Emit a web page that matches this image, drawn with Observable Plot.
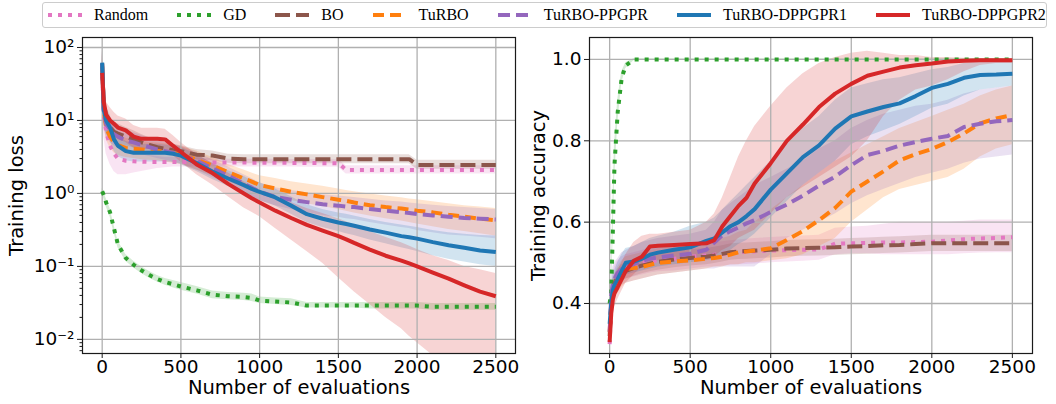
<!DOCTYPE html>
<html>
<head>
<meta charset="utf-8">
<script src="https://cdn.jsdelivr.net/npm/d3@7"></script>
<script src="https://cdn.jsdelivr.net/npm/@observablehq/plot@0.6"></script>
<style>
  body { margin: 0; background: #fff; }
  #wrap { width: 1056px; height: 404px; position: relative; overflow: hidden; background: #fff; }
  #legend { position: absolute; left: 42px; top: 2px; width: 1005px; height: 26px; box-sizing: border-box;
            border: 1px solid #cccccc; border-radius: 3px; background: #fff;
            font-family: "Liberation Serif", "Times New Roman", serif; font-size: 16px; color: #000;
            display: flex; align-items: center; padding-left: 5px; gap: 29px; }
  .item { display: flex; align-items: center; gap: 12px; white-space: nowrap; }
  .item svg { display: block; }
  #left { position: absolute; left: 0; top: 30px; }
  #right { position: absolute; left: 528px; top: 30px; }
</style>
</head>
<body>
<div id="wrap">
  <div id="legend"></div>
  <div id="left"></div>
  <div id="right"></div>
</div>
<script>
// ---------------- series names ----------------
const methods = ["Random", "GD", "BO", "TuRBO", "TuRBO-PPGPR", "TuRBO-DPPGPR1", "TuRBO-DPPGPR2"];

// ---------------- tick values ----------------
const xTicks = [0, 500, 1000, 1500, 2000, 2500];
const lossTicks = [0.01, 0.1, 1, 10, 100];
const lossMinorTicks = [0.007, 0.008, 0.009, 0.02, 0.03, 0.04, 0.05, 0.06, 0.07, 0.08, 0.09,
  0.2, 0.3, 0.4, 0.5, 0.6, 0.7, 0.8, 0.9, 2, 3, 4, 5, 6, 7, 8, 9, 20, 30, 40, 50, 60, 70, 80, 90];
const accTicks = [0.4, 0.6, 0.8, 1.0];

// ---------------- training loss (left) ----------------
const lossX = [0, 10, 25, 50, 75, 100, 150, 200, 250, 300, 350, 400, 450, 500, 600, 700, 800, 900, 950, 1000,
  1100, 1200, 1300, 1400, 1500, 1550, 1600, 1700, 1800, 1900, 1950, 2000, 2100, 2200, 2300, 2400, 2500];

const lossRandom   = [40, 12, 7, 4.5, 3.5, 3.0, 2.8, 2.75, 2.72, 2.7, 2.7, 2.7, 2.7, 2.7, 2.68, 2.66, 2.65, 2.65, 2.64, 2.64, 2.63, 2.62, 2.62, 2.6, 2.6, 2.1, 2.1, 2.1, 2.1, 2.1, 2.1, 2.1, 2.1, 2.1, 2.1, 2.1, 2.1];
const lossRandomLo = [20, 6, 3.5, 2.5, 2.0, 1.8, 1.8, 1.9, 2.0, 2.1, 2.2, 2.25, 2.3, 2.3, 2.3, 2.3, 2.3, 2.3, 2.3, 2.3, 2.3, 2.3, 2.28, 2.28, 2.28, 1.85, 1.85, 1.85, 1.85, 1.85, 1.85, 1.85, 1.85, 1.85, 1.85, 1.85, 1.85];
const lossRandomHi = [90, 30, 14, 8, 5.5, 4.5, 4.0, 3.6, 3.4, 3.3, 3.2, 3.1, 3.1, 3.05, 3.0, 3.0, 2.95, 2.95, 2.95, 2.95, 2.95, 2.92, 2.92, 2.9, 2.9, 2.4, 2.4, 2.4, 2.4, 2.4, 2.4, 2.4, 2.4, 2.4, 2.4, 2.4, 2.4];

const lossGD   = [1.07, 0.95, 0.75, 0.55, 0.33, 0.2, 0.13, 0.105, 0.088, 0.076, 0.067, 0.061, 0.057, 0.053, 0.047, 0.041, 0.039, 0.038, 0.037, 0.034, 0.033, 0.032, 0.029, 0.029, 0.029, 0.029, 0.029, 0.029, 0.029, 0.029, 0.029, 0.029, 0.028, 0.028, 0.028, 0.028, 0.028];
const lossGDLo = [0.97, 0.85, 0.66, 0.48, 0.29, 0.18, 0.118, 0.095, 0.08, 0.069, 0.061, 0.055, 0.051, 0.047, 0.042, 0.036, 0.035, 0.034, 0.033, 0.031, 0.03, 0.029, 0.027, 0.027, 0.027, 0.027, 0.027, 0.026, 0.026, 0.026, 0.026, 0.026, 0.025, 0.025, 0.025, 0.025, 0.025];
const lossGDHi = [1.18, 1.06, 0.85, 0.62, 0.37, 0.225, 0.146, 0.118, 0.099, 0.085, 0.075, 0.068, 0.064, 0.06, 0.053, 0.046, 0.044, 0.043, 0.042, 0.038, 0.037, 0.036, 0.032, 0.032, 0.032, 0.032, 0.032, 0.032, 0.032, 0.032, 0.032, 0.032, 0.031, 0.031, 0.031, 0.031, 0.031];

const lossBO   = [55, 18, 11, 8, 7, 6.6, 6, 5.5, 5, 4.6, 4.3, 4.1, 3.9, 3.8, 3.4, 3.3, 3.0, 2.95, 2.95, 2.95, 2.95, 2.95, 2.95, 2.95, 2.95, 2.95, 2.95, 2.95, 2.95, 2.95, 2.95, 2.45, 2.45, 2.45, 2.45, 2.45, 2.45];
const lossBOLo = [30, 10, 7, 5.5, 5, 4.8, 4.5, 4.2, 3.9, 3.7, 3.5, 3.4, 3.3, 3.2, 2.9, 2.8, 2.6, 2.55, 2.55, 2.55, 2.55, 2.55, 2.55, 2.55, 2.55, 2.55, 2.55, 2.55, 2.55, 2.55, 2.55, 2.15, 2.15, 2.15, 2.15, 2.15, 2.15];
const lossBOHi = [100, 30, 16, 11, 9.5, 9, 8, 7.2, 6.4, 5.8, 5.3, 5, 4.7, 4.5, 4.0, 3.8, 3.45, 3.4, 3.4, 3.4, 3.4, 3.4, 3.4, 3.4, 3.4, 3.4, 3.4, 3.4, 3.4, 3.4, 3.4, 2.85, 2.85, 2.85, 2.85, 2.85, 2.85];

const lossTuRBO   = [60, 14, 8, 6, 5, 4.6, 4.2, 4.1, 4.0, 3.9, 3.8, 3.7, 3.6, 3.4, 2.9, 2.4, 1.95, 1.6, 1.45, 1.3, 1.17, 1.05, 0.97, 0.89, 0.82, 0.79, 0.75, 0.69, 0.65, 0.62, 0.6, 0.58, 0.55, 0.51, 0.48, 0.45, 0.43];
const lossTuRBOLo = [35, 9, 5.5, 4.2, 3.6, 3.3, 3.1, 3.0, 2.9, 2.85, 2.8, 2.7, 2.6, 2.5, 2.1, 1.75, 1.45, 1.2, 1.1, 1.0, 0.9, 0.8, 0.72, 0.66, 0.6, 0.57, 0.54, 0.49, 0.45, 0.42, 0.4, 0.38, 0.35, 0.32, 0.3, 0.28, 0.26];
const lossTuRBOHi = [90, 22, 12, 8.5, 7, 6.3, 5.7, 5.4, 5.2, 5.0, 4.9, 4.8, 4.7, 4.4, 3.8, 3.1, 2.5, 2.1, 1.9, 1.75, 1.6, 1.45, 1.35, 1.25, 1.15, 1.1, 1.05, 0.98, 0.92, 0.87, 0.84, 0.82, 0.77, 0.72, 0.68, 0.65, 0.62];

const lossPPGPR   = [60, 13, 9, 7.5, 6.5, 6, 5.3, 5.0, 4.6, 4.3, 4.0, 3.8, 3.6, 3.4, 2.8, 2.2, 1.75, 1.35, 1.2, 1.05, 0.9, 0.82, 0.76, 0.71, 0.68, 0.66, 0.65, 0.61, 0.58, 0.55, 0.54, 0.52, 0.5, 0.48, 0.46, 0.45, 0.44];
const lossPPGPRLo = [35, 8, 6, 5, 4.5, 4.2, 3.8, 3.6, 3.4, 3.2, 3.0, 2.85, 2.7, 2.55, 2.1, 1.65, 1.3, 1.0, 0.9, 0.8, 0.68, 0.6, 0.55, 0.5, 0.47, 0.45, 0.44, 0.4, 0.37, 0.34, 0.33, 0.31, 0.29, 0.27, 0.26, 0.25, 0.24];
const lossPPGPRHi = [90, 20, 13, 11, 9.5, 8.5, 7.3, 6.8, 6.2, 5.7, 5.3, 5.0, 4.7, 4.4, 3.7, 2.9, 2.3, 1.8, 1.6, 1.4, 1.2, 1.1, 1.02, 0.96, 0.92, 0.9, 0.88, 0.83, 0.79, 0.76, 0.74, 0.72, 0.69, 0.66, 0.64, 0.62, 0.6];

const lossD1   = [62, 14, 10, 8, 5.5, 4.5, 3.8, 3.6, 3.6, 3.6, 3.6, 3.6, 3.5, 3.3, 2.6, 2.0, 1.6, 1.3, 1.15, 1.05, 0.88, 0.68, 0.52, 0.45, 0.4, 0.38, 0.36, 0.32, 0.29, 0.26, 0.25, 0.24, 0.215, 0.195, 0.18, 0.165, 0.157];
const lossD1Lo = [40, 9, 6.5, 5.3, 3.8, 3.2, 2.8, 2.7, 2.7, 2.7, 2.7, 2.7, 2.65, 2.5, 2.0, 1.55, 1.25, 1.0, 0.88, 0.8, 0.67, 0.52, 0.4, 0.34, 0.3, 0.28, 0.265, 0.23, 0.205, 0.18, 0.17, 0.16, 0.14, 0.125, 0.115, 0.105, 0.1];
const lossD1Hi = [95, 22, 15, 12, 8, 6.3, 5.2, 4.8, 4.7, 4.7, 4.7, 4.6, 4.5, 4.3, 3.4, 2.6, 2.05, 1.7, 1.5, 1.4, 1.15, 0.9, 0.7, 0.6, 0.54, 0.52, 0.49, 0.44, 0.4, 0.37, 0.355, 0.34, 0.31, 0.29, 0.275, 0.265, 0.26];

const lossD2   = [45, 18, 12, 10, 9, 8, 7.3, 6.0, 5.6, 5.6, 5.6, 5.5, 4.5, 3.7, 2.5, 1.9, 1.35, 1.0, 0.86, 0.75, 0.58, 0.46, 0.37, 0.31, 0.26, 0.235, 0.21, 0.17, 0.14, 0.12, 0.11, 0.1, 0.082, 0.068, 0.055, 0.045, 0.039];
const lossD2Lo = [25, 10, 7.5, 6.5, 6, 5.5, 5, 4.2, 4, 4, 4, 3.9, 3.3, 2.7, 1.8, 1.3, 0.9, 0.63, 0.55, 0.48, 0.33, 0.23, 0.16, 0.11, 0.07, 0.056, 0.045, 0.03, 0.02, 0.014, 0.011, 0.009, 0.006, 0.004, 0.003, 0.002, 0.002];
const lossD2Hi = [80, 30, 18, 15, 13, 11.5, 10.5, 8.5, 7.8, 7.8, 7.8, 7.6, 6.2, 5.0, 3.4, 2.6, 1.9, 1.45, 1.25, 1.1, 0.9, 0.75, 0.62, 0.53, 0.45, 0.41, 0.37, 0.3, 0.25, 0.21, 0.19, 0.17, 0.14, 0.12, 0.1, 0.09, 0.08];

// ---------------- training accuracy (right) ----------------
const accX = [0, 10, 20, 30, 50, 75, 100, 150, 200, 250, 300, 400, 500, 600, 650, 700, 750, 800, 850, 900, 1000,
  1100, 1200, 1300, 1400, 1500, 1600, 1700, 1800, 1900, 2000, 2100, 2200, 2300, 2400, 2500];

const accRandom   = [0.30, 0.40, 0.44, 0.46, 0.475, 0.485, 0.49, 0.495, 0.50, 0.503, 0.506, 0.51, 0.515, 0.518, 0.52, 0.522, 0.524, 0.526, 0.527, 0.528, 0.53, 0.531, 0.532, 0.533, 0.547, 0.548, 0.549, 0.55, 0.55, 0.551, 0.552, 0.555, 0.558, 0.56, 0.561, 0.563];
const accRandomLo = [0.28, 0.37, 0.41, 0.43, 0.445, 0.455, 0.46, 0.465, 0.47, 0.475, 0.478, 0.48, 0.485, 0.49, 0.49, 0.492, 0.494, 0.495, 0.496, 0.497, 0.5, 0.502, 0.504, 0.506, 0.52, 0.522, 0.522, 0.52, 0.52, 0.52, 0.52, 0.52, 0.522, 0.524, 0.525, 0.525];
const accRandomHi = [0.32, 0.43, 0.47, 0.49, 0.505, 0.515, 0.52, 0.525, 0.53, 0.535, 0.538, 0.54, 0.545, 0.548, 0.55, 0.552, 0.554, 0.556, 0.558, 0.56, 0.562, 0.564, 0.566, 0.568, 0.585, 0.588, 0.59, 0.595, 0.6, 0.6, 0.6, 0.6, 0.602, 0.605, 0.605, 0.605];

const accGD   = [0.40, 0.43, 0.58, 0.74, 0.87, 0.955, 0.985, 1.0, 1.0, 1.0, 1.0, 1.0, 1.0, 1.0, 1.0, 1.0, 1.0, 1.0, 1.0, 1.0, 1.0, 1.0, 1.0, 1.0, 1.0, 1.0, 1.0, 1.0, 1.0, 1.0, 1.0, 1.0, 1.0, 1.0, 1.0, 1.0];
const accGDLo = [0.38, 0.41, 0.54, 0.70, 0.84, 0.94, 0.978, 0.997, 0.998, 0.998, 0.998, 0.998, 0.998, 0.998, 0.998, 0.998, 0.998, 0.998, 0.998, 0.998, 0.998, 0.998, 0.998, 0.998, 0.998, 0.998, 0.998, 0.998, 0.998, 0.998, 0.998, 0.998, 0.998, 0.998, 0.998, 0.998];
const accGDHi = [0.42, 0.46, 0.64, 0.79, 0.90, 0.97, 0.992, 1.002, 1.002, 1.002, 1.002, 1.002, 1.002, 1.002, 1.002, 1.002, 1.002, 1.002, 1.002, 1.002, 1.002, 1.002, 1.002, 1.002, 1.002, 1.002, 1.002, 1.002, 1.002, 1.002, 1.002, 1.002, 1.002, 1.002, 1.002, 1.002];

const accBO   = [0.32, 0.40, 0.43, 0.45, 0.465, 0.475, 0.48, 0.487, 0.493, 0.498, 0.502, 0.508, 0.512, 0.515, 0.518, 0.522, 0.526, 0.528, 0.529, 0.53, 0.532, 0.535, 0.536, 0.537, 0.538, 0.54, 0.541, 0.543, 0.544, 0.546, 0.548, 0.548, 0.548, 0.548, 0.548, 0.548];
const accBOLo = [0.30, 0.38, 0.41, 0.43, 0.445, 0.455, 0.46, 0.467, 0.473, 0.478, 0.482, 0.488, 0.492, 0.495, 0.498, 0.502, 0.506, 0.508, 0.509, 0.51, 0.512, 0.515, 0.516, 0.517, 0.518, 0.52, 0.521, 0.523, 0.524, 0.526, 0.528, 0.528, 0.528, 0.528, 0.528, 0.528];
const accBOHi = [0.34, 0.42, 0.45, 0.47, 0.485, 0.495, 0.5, 0.507, 0.513, 0.518, 0.522, 0.528, 0.532, 0.535, 0.538, 0.542, 0.546, 0.548, 0.549, 0.55, 0.552, 0.555, 0.556, 0.557, 0.558, 0.56, 0.561, 0.563, 0.564, 0.566, 0.568, 0.568, 0.568, 0.568, 0.568, 0.568];

const accTuRBO   = [0.33, 0.40, 0.43, 0.445, 0.46, 0.475, 0.485, 0.487, 0.49, 0.495, 0.50, 0.503, 0.506, 0.51, 0.512, 0.515, 0.52, 0.526, 0.528, 0.53, 0.536, 0.556, 0.578, 0.605, 0.635, 0.675, 0.70, 0.725, 0.752, 0.767, 0.78, 0.797, 0.818, 0.843, 0.855, 0.863];
const accTuRBOLo = [0.30, 0.37, 0.40, 0.41, 0.425, 0.44, 0.45, 0.455, 0.46, 0.465, 0.47, 0.475, 0.48, 0.485, 0.49, 0.49, 0.495, 0.495, 0.5, 0.5, 0.505, 0.51, 0.52, 0.54, 0.56, 0.6, 0.63, 0.66, 0.68, 0.69, 0.7, 0.71, 0.73, 0.76, 0.78, 0.79];
const accTuRBOHi = [0.36, 0.44, 0.46, 0.47, 0.49, 0.505, 0.515, 0.52, 0.525, 0.53, 0.535, 0.54, 0.545, 0.55, 0.555, 0.56, 0.565, 0.575, 0.58, 0.6, 0.63, 0.66, 0.69, 0.72, 0.75, 0.77, 0.79, 0.81, 0.83, 0.845, 0.86, 0.875, 0.89, 0.91, 0.925, 0.935];

const accPPGPR   = [0.33, 0.42, 0.45, 0.46, 0.475, 0.485, 0.49, 0.497, 0.505, 0.51, 0.513, 0.518, 0.522, 0.532, 0.55, 0.568, 0.578, 0.587, 0.597, 0.605, 0.625, 0.643, 0.665, 0.69, 0.712, 0.74, 0.765, 0.775, 0.788, 0.797, 0.805, 0.812, 0.834, 0.842, 0.848, 0.851];
const accPPGPRLo = [0.30, 0.38, 0.41, 0.42, 0.43, 0.445, 0.45, 0.455, 0.46, 0.465, 0.47, 0.475, 0.48, 0.485, 0.485, 0.49, 0.49, 0.49, 0.49, 0.49, 0.52, 0.56, 0.58, 0.6, 0.62, 0.645, 0.665, 0.68, 0.695, 0.71, 0.72, 0.73, 0.745, 0.755, 0.76, 0.765];
const accPPGPRHi = [0.36, 0.46, 0.49, 0.5, 0.51, 0.525, 0.53, 0.54, 0.55, 0.555, 0.56, 0.565, 0.57, 0.58, 0.6, 0.63, 0.645, 0.66, 0.675, 0.69, 0.71, 0.73, 0.75, 0.78, 0.8, 0.83, 0.85, 0.865, 0.875, 0.885, 0.89, 0.9, 0.915, 0.925, 0.93, 0.935];

const accD1   = [0.35, 0.40, 0.433, 0.445, 0.46, 0.48, 0.50, 0.503, 0.51, 0.52, 0.525, 0.532, 0.538, 0.554, 0.56, 0.575, 0.59, 0.60, 0.615, 0.632, 0.68, 0.72, 0.76, 0.789, 0.83, 0.86, 0.872, 0.883, 0.892, 0.91, 0.93, 0.94, 0.955, 0.962, 0.963, 0.965];
const accD1Lo = [0.32, 0.37, 0.40, 0.41, 0.43, 0.45, 0.47, 0.475, 0.48, 0.485, 0.49, 0.495, 0.5, 0.505, 0.51, 0.52, 0.53, 0.545, 0.555, 0.57, 0.61, 0.65, 0.69, 0.72, 0.75, 0.79, 0.81, 0.825, 0.84, 0.86, 0.88, 0.89, 0.91, 0.925, 0.93, 0.935];
const accD1Hi = [0.38, 0.44, 0.47, 0.48, 0.5, 0.52, 0.535, 0.54, 0.55, 0.56, 0.565, 0.575, 0.59, 0.6, 0.61, 0.63, 0.65, 0.67, 0.69, 0.71, 0.75, 0.79, 0.83, 0.86, 0.9, 0.93, 0.94, 0.95, 0.955, 0.965, 0.975, 0.98, 0.99, 0.995, 0.995, 0.995];

const accD2   = [0.305, 0.375, 0.41, 0.425, 0.44, 0.46, 0.48, 0.505, 0.515, 0.54, 0.542, 0.544, 0.546, 0.548, 0.556, 0.59, 0.615, 0.64, 0.66, 0.695, 0.745, 0.80, 0.84, 0.883, 0.916, 0.94, 0.96, 0.97, 0.98, 0.986, 0.99, 0.995, 0.997, 0.998, 0.998, 0.998];
const accD2Lo = [0.28, 0.33, 0.37, 0.39, 0.41, 0.43, 0.45, 0.47, 0.49, 0.5, 0.505, 0.505, 0.51, 0.51, 0.515, 0.53, 0.54, 0.56, 0.57, 0.58, 0.62, 0.66, 0.685, 0.71, 0.735, 0.76, 0.8, 0.86, 0.9, 0.925, 0.935, 0.95, 0.97, 0.985, 0.99, 0.99];
const accD2Hi = [0.33, 0.42, 0.45, 0.46, 0.48, 0.5, 0.52, 0.55, 0.565, 0.57, 0.57, 0.575, 0.58, 0.6, 0.62, 0.66, 0.71, 0.76, 0.8, 0.835, 0.885, 0.93, 0.965, 0.99, 1.005, 1.015, 1.02, 1.015, 1.01, 1.01, 1.005, 1.005, 1.003, 1.002, 1.002, 1.002];

// ---------------- styles (not data) ----------------
const colors = ["#e377c2", "#2ca02c", "#8c564b", "#ff7f0e", "#9467bd", "#1f77b4", "#d62728"];
const dashes = ["4,6", "4,6", "15,6", "11,6", "12,6", null, null];

const lossMeans = [lossRandom, lossGD, lossBO, lossTuRBO, lossPPGPR, lossD1, lossD2];
const lossLos   = [lossRandomLo, lossGDLo, lossBOLo, lossTuRBOLo, lossPPGPRLo, lossD1Lo, lossD2Lo];
const lossHis   = [lossRandomHi, lossGDHi, lossBOHi, lossTuRBOHi, lossPPGPRHi, lossD1Hi, lossD2Hi];
const accMeans  = [accRandom, accGD, accBO, accTuRBO, accPPGPR, accD1, accD2];
const accLos    = [accRandomLo, accGDLo, accBOLo, accTuRBOLo, accPPGPRLo, accD1Lo, accD2Lo];
const accHis    = [accRandomHi, accGDHi, accBOHi, accTuRBOHi, accPPGPRHi, accD1Hi, accD2Hi];

function rowsFor(xs, means, los, his, k) {
  return xs.map((x, i) => ({method: methods[k], x, y: means[k][i], lo: los[k][i], hi: his[k][i]}));
}

const supMap = {"-": "\u207B", "0": "\u2070", "1": "\u00B9", "2": "\u00B2", "3": "\u00B3"};
function logFmt(d) {
  const e = String(Math.round(Math.log10(d)));
  return "10" + e.split("").map(c => supMap[c]).join("");
}

const gridStyle = {stroke: "#b0b0b0", strokeOpacity: 1, strokeWidth: 1.3};
const textFont = "DejaVu Sans";

function panel({xs, means, los, his, yOpts, yTicks, yFmt, minor, ylabel, marginLeft, marginRight, ylabelDx}) {
  const bands = methods.map((m, k) => Plot.areaY(rowsFor(xs, means, los, his, k), {
    x: "x", y1: "lo", y2: "hi", fill: colors[k], fillOpacity: 0.2, clip: true
  }));
  const lines = methods.map((m, k) => Plot.lineY(rowsFor(xs, means, los, his, k), {
    x: "x", y: "y", stroke: colors[k], strokeWidth: 4,
    strokeDasharray: dashes[k] || undefined, strokeLinecap: "butt", strokeLinejoin: "round", clip: true
  }));
  const marks = [
    ...bands,
    Plot.gridX(xTicks, gridStyle),
    Plot.gridY(yTicks, gridStyle),
    ...lines,
    Plot.frame({stroke: "#1a1a1a", strokeWidth: 1.2}),
    Plot.axisX(xTicks, {tickSize: 5, tickPadding: 1, label: null, fontSize: 18.5, stroke: "#1a1a1a", tickFormat: d => String(d)}),
    Plot.axisY(yTicks, {tickSize: 5, tickPadding: 3, label: null, fontSize: 18.5, tickFormat: yFmt, stroke: "#1a1a1a"}),
    Plot.text(["Number of evaluations"], {text: d => d, frameAnchor: "bottom", textAnchor: "middle", dy: 40, fontSize: 19.5, fill: "#000"}),
    Plot.text([ylabel], {text: d => d, frameAnchor: "left", textAnchor: "middle", dx: ylabelDx, rotate: -90, fontSize: 19.5, fill: "#000"})
  ];
  if (minor) marks.push(Plot.axisY(minor, {tickSize: 2.5, fill: "none", label: null, stroke: "#1a1a1a"}));
  return Plot.plot({
    width: 528, height: 374,
    marginTop: 7, marginBottom: 51, marginLeft, marginRight,
    x: {domain: [-125, 2625]},
    y: yOpts,
    style: {fontFamily: textFont, fontSize: "18.5px", color: "#000", background: "#fff", overflow: "visible"},
    marks
  });
}

document.getElementById("left").appendChild(panel({
  xs: lossX, means: lossMeans, los: lossLos, his: lossHis,
  yOpts: {type: "log", domain: [0.0064, 137]},
  yTicks: lossTicks, yFmt: logFmt, minor: lossMinorTicks,
  ylabel: "Training loss", marginLeft: 82, marginRight: 13, ylabelDx: -66
}));

document.getElementById("right").appendChild(panel({
  xs: accX, means: accMeans, los: accLos, his: accHis,
  yOpts: {domain: [0.277, 1.054]},
  yTicks: accTicks, yFmt: d => d.toFixed(1), minor: null,
  ylabel: "Training accuracy", marginLeft: 61, marginRight: 24, ylabelDx: -51
}));

// ---------------- legend ----------------
const legend = document.getElementById("legend");
methods.forEach((m, k) => {
  const item = document.createElement("div");
  item.className = "item";
  const dash = dashes[k] ? `stroke-dasharray="${dashes[k]}"` : "";
  item.innerHTML = `<svg width="34" height="10"><line x1="0" y1="5" x2="34" y2="5" stroke="${colors[k]}" stroke-width="4" ${dash}/></svg><span>${m}</span>`;
  legend.appendChild(item);
});
</script>
</body>
</html>
